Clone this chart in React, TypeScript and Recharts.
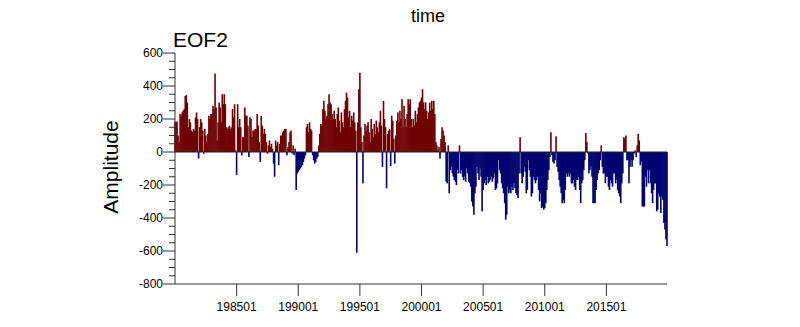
import { BarChart, Bar, Cell, XAxis, YAxis, ReferenceLine } from "recharts";

// EOF2 amplitude, monthly, Jan 1980 - Dec 2019 (one row per year)
const eof2_1980s = [
  185, 180, 185, 100, 60, 230, 220, 240, 250, 260, 340, 345,
  300, 150, 200, 180, 130, 120, 140, 130, 210, 240, 200, -40,
  150, 200, 180, 130, -10, 140, 100, 60, 110, 220, 200, 230,
  230, 280, 260, 475, 270, 70, 180, 300, 270, 180, 350, 290,
  350, 290, 150, 140, 150, 160, 140, 150, 260, 210, 290, 10,
  -140, 290, 150, 200, 150, -20, 90, 90, 270, 220, 220, 160,
  -30, 210, 200, 90, 130, 130, 140, 140, 230, 160, 60, -60,
  220, 160, 110, 140, 110, 60, -10, 40, 70, 30, 50, 20,
  -70, -150, 70, 40, 60, -80, 50, 100, 100, 120, 130, 140,
  140, -20, 30, 60, 120, 130, -10, 40, -20, 20, -230, -130,
];

const eof2_1990s = [
  -120, -110, -100, -90, -80, -60, -40, -20, 150, 170, 120, 180,
  140, 130, -20, -50, -70, -60, -40, -30, 40, 110, 170, 160,
  260, 310, 250, 200, 220, 290, 350, 300, 290, 230, 200, 250,
  200, 150, 230, 270, 190, 120, 240, 180, 150, 260, 310, 360,
  330, 210, 250, 150, 220, 190, 240, 180, 130, -610, 180, 380,
  480, 150, 60, -190, 100, 170, 130, 160, 180, 120, 60, 200,
  140, 90, 170, 110, 190, 150, 120, 180, 250, 160, -90, 310,
  200, 150, -220, 110, 130, 140, -85, 220, 190, 80, -70, 100,
  190, 240, 180, 250, 200, 320, 150, 280, 200, 150, 230, 320,
  290, 320, 200, 150, 200, 160, 250, 180, 230, 270, 300, 310,
];

const eof2_2000s = [
  330, 380, 300, 260, 300, 250, 200, 240, 300, 250, 310, 260,
  310, 230, 60, 40, 10, 30, -40, 80, 150, 130, 100, 60,
  -180, -190, 40, -250, -110, -90, -130, -150, -170, -180, -200, -110,
  -130, 40, -130, -110, -150, -170, -150, -180, -100, -130, -180, -190,
  -210, -300, -330, -380, -250, -210, -90, -130, -170, -100, -150, -360,
  -230, -190, -170, -200, -150, -190, -180, -170, -150, -180, -160, -130,
  -230, -220, -190, -50, -110, -130, -190, -220, -250, -310, -410, -380,
  -210, -250, -230, -250, -210, -230, -190, -220, -250, -260, -280, -130,
  90, -130, -190, -150, -90, -120, -250, -230, -50, -110, -150, -270,
  -250, -150, -170, -190, -170, -150, -230, -300, -250, -340, -330, -350,
];

const eof2_2010s = [
  -340, -310, -230, -170, -110, -30, 120, -20, -60, -70, -50, 95,
  -90, -120, -170, -210, -250, -310, -290, -310, -230, -130, -150, -130,
  -150, -130, -190, -190, -170, -210, -230, -170, -170, -150, -230, -310,
  -190, -170, -110, -50, 115, 60, -10, -130, -110, -90, -150, -310,
  -310, -310, -230, -170, -130, -110, -50, 40, -90, -130, -130, -190,
  -150, -150, -210, -230, -170, -190, -210, -130, -130, -190, -170, -230,
  -250, -270, -310, -190, -130, 90, 80, 100, -50, -50, -190, -90,
  -50, -90, -50, -10, 10, -30, 40, 110, 70, -80, -60, -330,
  -330, -330, -150, -210, -110, -190, -110, -190, -250, -310, -230, -190,
  -190, -360, -350, -250, -270, -370, -270, -290, -430, -470, -530, -570,
];

const xTickIdx = [60, 120, 180, 240, 300, 360, 420];
const xTickLabels = ["198501", "199001", "199501", "200001", "200501", "201001", "201501"];
const yTicks = [600, 550, 500, 450, 400, 350, 300, 250, 200, 150, 100, 50, 0, -50, -100, -150, -200, -250, -300, -350, -400, -450, -500, -550, -600, -650, -700, -750, -800];

const values = [...eof2_1980s, ...eof2_1990s, ...eof2_2000s, ...eof2_2010s];
const data = values.map((v, i) => ({ idx: i, amp: v }));

const FONT = "'Liberation Sans', Arial, Helvetica, sans-serif";
const AXIS = "#333";

const YTick = ({ x, y, payload }: any) => {
  const major = payload.value % 200 === 0;
  return (
    <g>
      <line x1={x - (major ? 12 : 6)} x2={x} y1={y} y2={y} stroke={AXIS} />
      {major && (
        <text x={x - 12} y={y} dy={4} textAnchor="end" fontSize={12} fill="#000" fontFamily={FONT}>
          {payload.value}
        </text>
      )}
    </g>
  );
};

// thin bar, a bit wider than one month so neighbours touch
const ThinBar = (p: any) => {
  const cx = p.x + p.width / 2;
  const top = Math.min(p.y, p.y + p.height);
  const h = Math.abs(p.height);
  return <rect x={cx - 0.8} y={top} width={1.6} height={h} fill={p.fill} />;
};

export default function App() {
  return (
    <div style={{ position: "absolute", left: 0, top: 0, width: 800, height: 327, background: "#fff", fontFamily: FONT }}>
      <div style={{ position: "absolute", left: 0, width: 856, top: 7, textAlign: "center", fontSize: 18, lineHeight: "18px" }}>time</div>
      <div style={{ position: "absolute", left: 173, top: 29, fontSize: 21, lineHeight: "21px" }}>EOF2</div>
      <div
        style={{
          position: "absolute",
          left: 110,
          top: 167,
          fontSize: 21,
          lineHeight: "21px",
          whiteSpace: "nowrap",
          transform: "translate(-50%, -50%) rotate(-90deg)",
        }}
      >
        Amplitude
      </div>
      <BarChart width={800} height={327} data={data} margin={{ top: 53, right: 133, bottom: 3, left: 115 }}>
        <XAxis
          dataKey="idx"
          type="number"
          domain={[0, 479]}
          ticks={xTickIdx}
          tickFormatter={(v) => xTickLabels[xTickIdx.indexOf(v)] ?? ""}
          tickSize={12}
          tickMargin={6}
          height={40}
          stroke={AXIS}
          tick={{ fontSize: 12, fill: "#000", fontFamily: FONT }}
        />
        <XAxis xAxisId="top" orientation="top" type="number" domain={[0, 479]} height={0} tick={false} tickLine={false} stroke={AXIS} />
        <YAxis
          domain={[-800, 600]}
          ticks={yTicks}
          interval={0}
          tickSize={0}
          tickMargin={0}
          tickLine={false}
          width={60}
          stroke={AXIS}
          tick={<YTick />}
          allowDataOverflow
        />
        <YAxis yAxisId="right" orientation="right" domain={[-800, 600]} width={0} tick={false} tickLine={false} stroke={AXIS} />
        <Bar dataKey="amp" barSize={1} shape={<ThinBar />} isAnimationActive={false}>
          {data.map((d) => (
            <Cell key={d.idx} fill={d.amp >= 0 ? "#700000" : "#000070"} />
          ))}
        </Bar>
        <ReferenceLine y={0} stroke="#222" />
      </BarChart>
    </div>
  );
}
